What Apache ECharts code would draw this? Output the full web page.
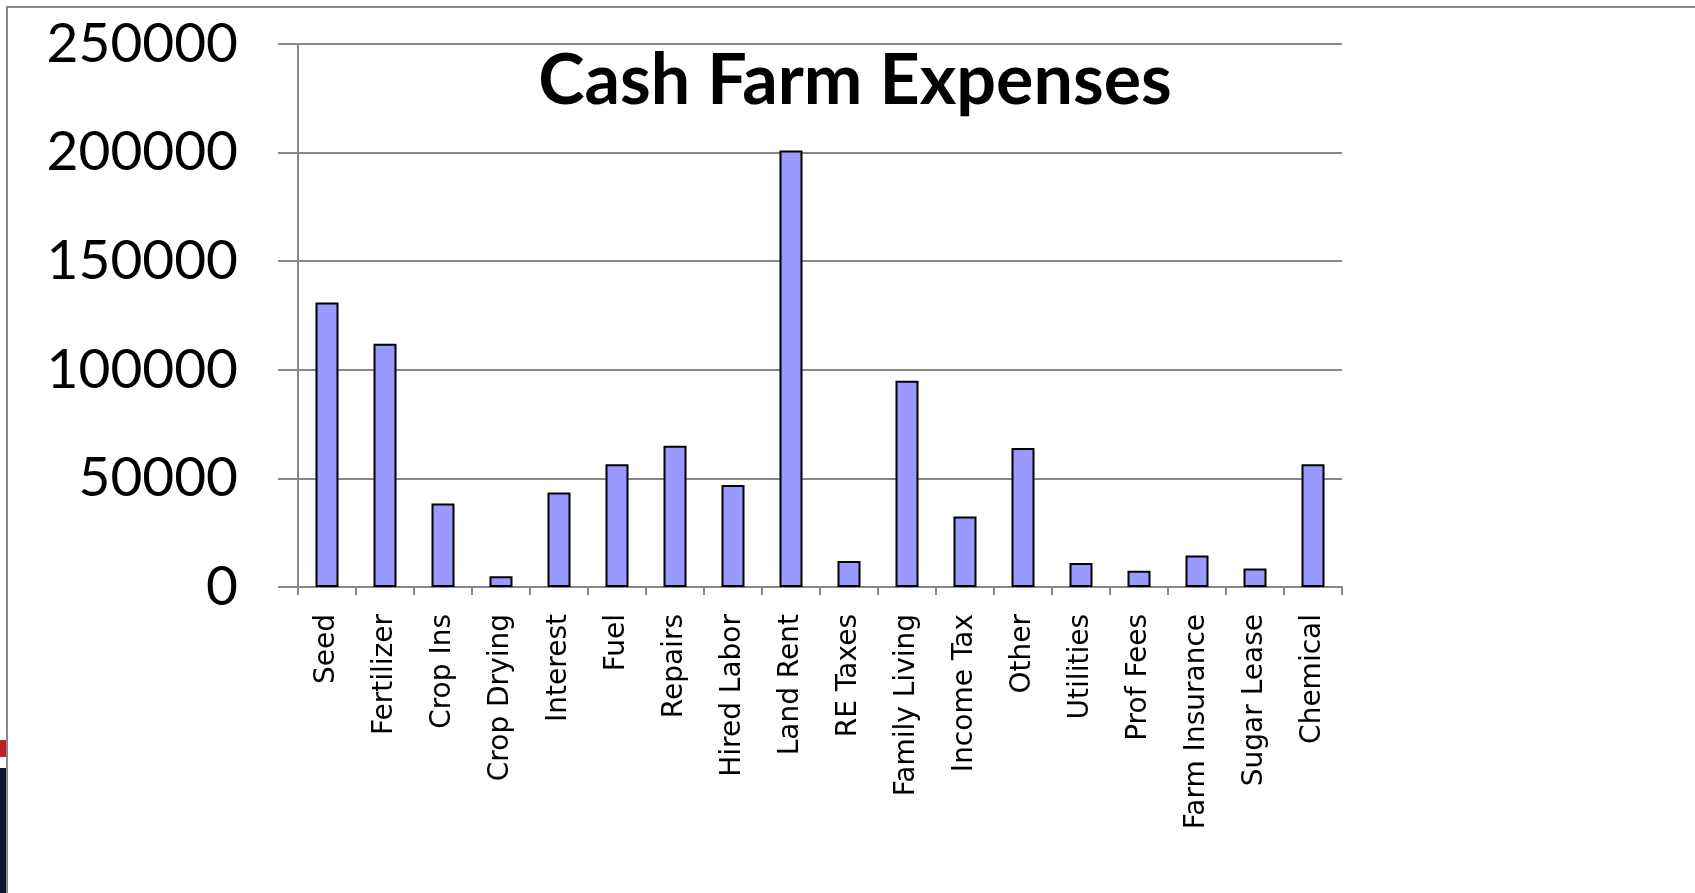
<!DOCTYPE html>
<html>
<head>
<meta charset="utf-8">
<script src="https://cdn.jsdelivr.net/npm/echarts@6/dist/echarts.min.js"></script>
<style>
html,body{margin:0;padding:0;background:#fff;}
#chart{width:1695px;height:893px;}
</style>
</head>
<body>
<div id="chart"></div>
<script>
const chartTitle = 'Cash Farm Expenses';
const categories = ['Seed','Fertilizer','Crop Ins','Crop Drying','Interest','Fuel','Repairs','Hired Labor','Land Rent','RE Taxes','Family Living','Income Tax','Other','Utilities','Prof Fees','Farm Insurance','Sugar Lease','Chemical'];
const expenses = [131000,112000,38500,5000,43500,56500,65000,47000,201000,12000,95000,32500,64000,11000,7500,14500,8500,56500];
const yTicks = {min:0, max:250000, interval:50000};

const chart = echarts.init(document.getElementById('chart'), null, {renderer:'canvas'});
const gray = '#888888';
chart.setOption({
  backgroundColor:'#ffffff',
  animation:false,
  graphic:[
    {type:'rect', shape:{x:7,y:7,width:1700,height:900}, style:{fill:'none', stroke:gray, lineWidth:2}, z:-10},
    {type:'rect', shape:{x:0,y:740,width:6,height:17}, style:{fill:'#c0202a'}, z:-10},
    {type:'rect', shape:{x:0,y:768,width:6,height:125}, style:{fill:'#0a1628'}, z:-10}
  ],
  title:{
    text:chartTitle,
    left:850, top:76,
    textAlign:'center', textVerticalAlign:'middle',
    textStyle:{fontFamily:'Lato', fontWeight:'bold', fontSize:70, color:'#000'}
  },
  grid:{left:298, right:353, top:44, bottom:306, containLabel:false},
  xAxis:{
    type:'category',
    data:categories,
    axisLine:{lineStyle:{color:gray, width:2}},
    axisTick:{show:true, length:8, lineStyle:{color:gray, width:2}},
    axisLabel:{rotate:90, margin:27, interval:0, fontFamily:'DejaVu Sans', fontSize:28, color:'#000'}
  },
  yAxis:{
    type:'value',
    min:yTicks.min, max:yTicks.max, interval:yTicks.interval,
    axisLine:{show:true, lineStyle:{color:gray, width:2}},
    axisTick:{show:true, length:20, lineStyle:{color:gray, width:2}},
    splitLine:{show:true, lineStyle:{color:gray, width:2}},
    axisLabel:{margin:60, fontFamily:'Lato', fontSize:55, color:'#000', formatter:function(v){return String(v);}}
  },
  series:[{
    type:'bar',
    data:expenses,
    barWidth:23,
    itemStyle:{color:'#9999ff', borderColor:'#000', borderWidth:2}
  }]
});
</script>
</body>
</html>
